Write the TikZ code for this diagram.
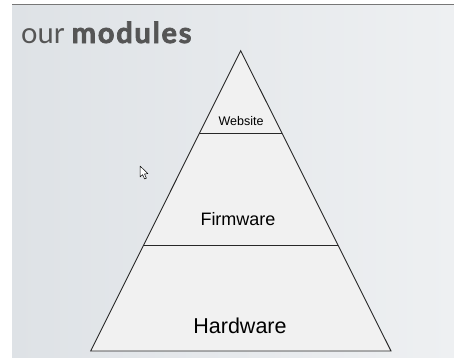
\documentclass[tikz,border=0pt]{standalone}
\usepackage{fontspec}
\setmainfont{Liberation Sans}
\newfontfamily\titlefont{Lato}
\newfontfamily\titleboldfont[LetterSpace=6,FakeBold=2.5]{Lato Bold}
\usepackage{xcolor}
\definecolor{slidebg}{RGB}{222,226,230}
\definecolor{slidebgb}{RGB}{238,240,242}
\definecolor{pyrfill}{RGB}{241,241,241}
\definecolor{pyrline}{RGB}{40,40,40}
\definecolor{titlegray}{RGB}{85,85,85}
\usetikzlibrary{calc}

\tikzset{
  layerlabel/.style={font=#1, text=black, inner sep=0pt},
  divider/.style={draw=pyrline, line width=0.9pt}
}

\begin{document}
\begin{tikzpicture}[x=1pt, y=-1pt]
  \useasboundingbox (0,0) rectangle (454,357);
  % Slide background
  \shade[left color=slidebg, right color=slidebgb] (12,5) rectangle (454,357);
  \draw[titlegray!80, line width=1.4pt] (12,4.5) -- (454,4.5);

  % Title
  \node[anchor=base west, inner sep=0pt, text=titlegray, font=\titlefont\fontsize{29}{29}\selectfont]
       (title) at (21,43) {our {\titleboldfont modules}};

  % Pyramid
  \coordinate (apex) at (240.7,50.7);
  \coordinate (bl)   at (90.7,351);
  \coordinate (br)   at (391,351);
  \draw[fill=pyrfill, draw=pyrline, line width=0.9pt, line join=miter] (apex) -- (br) -- (bl) -- cycle;

  \coordinate (webL)  at ($(apex)!0.275!(bl)$);
  \coordinate (webR)  at ($(apex)!0.275!(br)$);
  \coordinate (firmL) at ($(apex)!0.647!(bl)$);
  \coordinate (firmR) at ($(apex)!0.647!(br)$);
  \draw[divider] (webL) -- (webR);
  \draw[divider] (firmL) -- (firmR);

  % Layer labels
  \node[layerlabel=\fontsize{12.5}{12.5}\selectfont] (website)  at (241,121) {Website};
  \node[layerlabel=\fontsize{18}{18}\selectfont]     (firmware) at (238,219) {Firmware};
  \node[layerlabel=\fontsize{21.5}{21.5}\selectfont] (hardware) at (240,326) {Hardware};

  % Mouse pointer
  \draw[fill=white, draw=black, line width=0.5pt, line join=round]
       (140,166) -- (140,177) -- (142.6,174.6) -- (144.6,179) -- (146.4,178.2)
       -- (144.5,173.9) -- (148,173.6) -- cycle;
\end{tikzpicture}
\end{document}
